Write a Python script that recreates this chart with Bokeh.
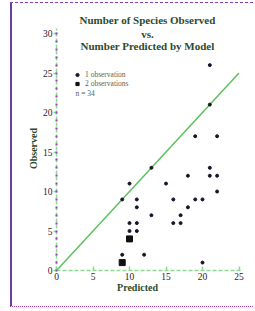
import math
from bokeh.plotting import figure
from bokeh.models import Label, Legend, LegendItem, Range1d, FixedTicker
from bokeh.embed import file_html
from bokeh.resources import INLINE

# Data
single_x = [21, 21, 19, 22, 13, 21, 18, 21, 22, 10, 15, 22, 9, 11, 16, 19, 20, 11, 18, 13, 17, 10, 11, 16, 17, 10, 11, 9, 12, 20]
single_y = [26, 21, 17, 17, 13, 13, 12, 12, 12, 11, 11, 10, 9, 9, 9, 9, 9, 8, 8, 7, 7, 6, 6, 6, 6, 5, 5, 2, 2, 1]
double_x = [10, 9]
double_y = [4, 1]
line_x = [0, 25]
line_y = [0, 25]
x_ticks = [0, 5, 10, 15, 20, 25]
y_ticks = [0, 5, 10, 15, 20, 25, 30]
title_lines = ["Number of Species Observed", "vs.", "Number Predicted by Model"]
legend_labels = ["1 observation", "2 observations"]
n_text = "n = 34"

SERIF = "Liberation Serif"
GREEN = "#8fd88f"
PURPLE = "#a040c0"
TXT = "#2a2030"
TITLE_C = "#2d4a2d"

p = figure(width=243, height=305, output_backend="svg", toolbar_location=None,
           x_range=Range1d(-6.03, 27.26), y_range=Range1d(-4.81, 33.8),
           min_border_left=0, min_border_right=0, min_border_top=0, min_border_bottom=0)
p.styles = {"margin-left": "10px", "margin-top": "2px", "border-left": "2px solid #6a3fa0",
            "border-top": "1px dashed #8a40c0", "border-bottom": "1px dotted #b040c0"}
p.outline_line_color = None
p.grid.visible = False
p.background_fill_color = "white"

for ax in (p.xaxis[0], p.yaxis[0]):
    ax.fixed_location = 0
    ax.axis_line_color = GREEN
    ax.axis_line_width = 1.5
    ax.axis_line_dash = "4 2"
    ax.major_label_text_font = SERIF
    ax.major_label_text_font_size = "9.5px"
    ax.major_label_text_color = TXT
    ax.major_tick_line_color = GREEN
    ax.major_tick_line_width = 1.5

p.xaxis.ticker = FixedTicker(ticks=x_ticks)
p.xaxis.bounds = (0, 25.3)
p.yaxis.ticker = FixedTicker(ticks=y_ticks, minor_ticks=list(range(0, 31)))
p.yaxis.bounds = (0, 30.6)
p.xaxis.major_tick_in = 4
p.xaxis.major_tick_out = 0
p.xaxis.minor_tick_line_color = None
p.xaxis.major_label_standoff = 2
p.yaxis.major_tick_in = 0
p.yaxis.major_tick_out = 3
p.yaxis.major_label_standoff = 1
p.yaxis.minor_tick_line_color = PURPLE
p.yaxis.minor_tick_line_width = 2
p.yaxis.minor_tick_in = 1
p.yaxis.minor_tick_out = 1

# diagonal y = x
p.line(line_x, line_y, line_color="#5cc05c", line_width=1.5)

r1 = p.scatter(single_x, single_y, marker="circle", size=3, fill_color="#1a1028", line_color="#1a1028")
r2 = p.scatter(double_x, double_y, marker="square", size=6, fill_color="#101010", line_color="#101010")

legend = Legend(items=[LegendItem(label=legend_labels[0], renderers=[r1]),
                       LegendItem(label=legend_labels[1], renderers=[r2])],
                location=(61, 220), padding=0, margin=0, spacing=0,
                glyph_width=8, glyph_height=9, label_height=9, label_standoff=4,
                label_text_font=SERIF, label_text_font_size="7.5px", label_text_color="#556655",
                border_line_alpha=0, background_fill_alpha=0)
p.add_layout(legend)

p.add_layout(Label(x=63, y=215, x_units="screen", y_units="screen", text=n_text,
                   text_font=SERIF, text_font_size="7.5px", text_color="#556655",
                   text_baseline="middle", text_align="left"))

for txt, yy in zip(title_lines, [289, 275, 263]):
    p.add_layout(Label(x=135, y=yy, x_units="screen", y_units="screen", text=txt,
                       text_font=SERIF, text_font_style="bold", text_font_size="11px",
                       text_color=TITLE_C, text_align="center", text_baseline="middle"))

p.add_layout(Label(x=125, y=21, x_units="screen", y_units="screen", text="Predicted",
                   text_font=SERIF, text_font_style="bold", text_font_size="10px",
                   text_color=TITLE_C, text_align="center", text_baseline="middle"))

p.add_layout(Label(x=21, y=160, x_units="screen", y_units="screen", text="Observed",
                   angle=math.pi / 2, text_font=SERIF, text_font_style="bold", text_font_size="10px",
                   text_color=TITLE_C, text_align="center", text_baseline="middle"))

open("out.html", "w").write(file_html(p, INLINE))
